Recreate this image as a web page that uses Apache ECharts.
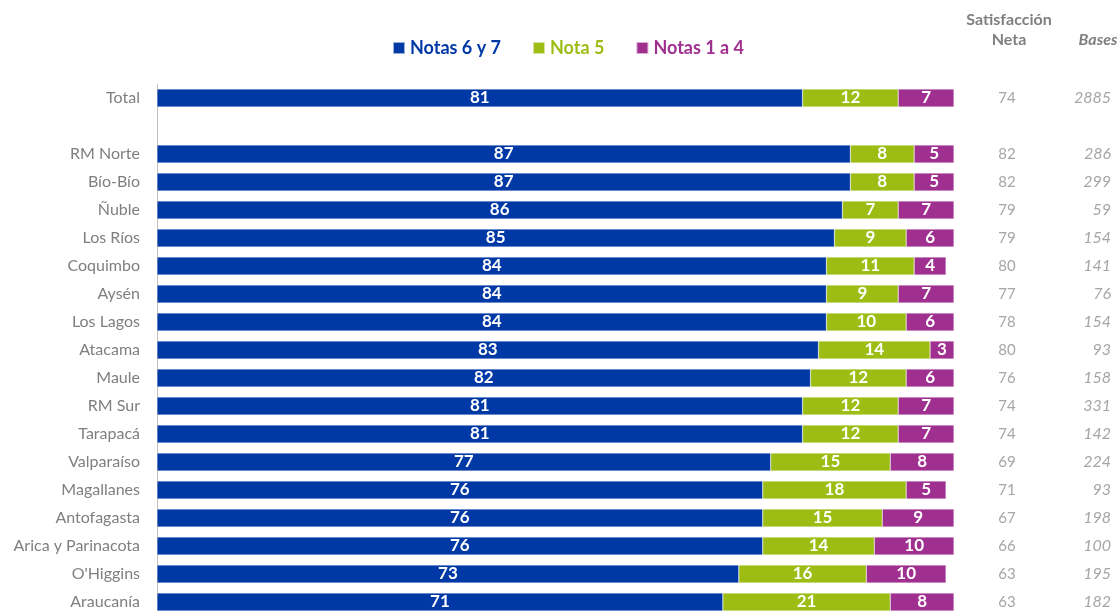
<!DOCTYPE html>
<html>
<head>
<meta charset="utf-8">
<script src="https://cdn.jsdelivr.net/npm/echarts@6/dist/echarts.min.js"></script>
<style>
  html, body { margin: 0; padding: 0; background: #fff; }
  #chart { width: 1120px; height: 611px; }
</style>
</head>
<body>
<div id="chart"></div>
<script>
// Regions (blank entry separates the national total from the regions)
var categories = ['Total', '', 'RM Norte', 'Bío-Bío', 'Ñuble', 'Los Ríos', 'Coquimbo', 'Aysén',
  'Los Lagos', 'Atacama', 'Maule', 'RM Sur', 'Tarapacá', 'Valparaíso', 'Magallanes',
  'Antofagasta', 'Arica y Parinacota', "O'Higgins", 'Araucanía'];

var notas6y7 = [81, null, 87, 87, 86, 85, 84, 84, 84, 83, 82, 81, 81, 77, 76, 76, 76, 73, 71];
var nota5    = [12, null, 8, 8, 7, 9, 11, 9, 10, 14, 12, 12, 12, 15, 18, 15, 14, 16, 21];
var notas1a4 = [7, null, 5, 5, 7, 6, 4, 7, 6, 3, 6, 7, 7, 8, 5, 9, 10, 10, 8];

var satisfaccionNeta = [74, null, 82, 82, 79, 79, 80, 77, 78, 80, 76, 74, 74, 69, 71, 67, 66, 63, 63];
var bases = [2885, null, 286, 299, 59, 154, 141, 76, 154, 93, 158, 331, 142, 224, 93, 198, 100, 195, 182];

var FONT = 'Lato, "Open Sans", sans-serif';
var COLORS = ['#0039a6', '#9dbd14', '#a0308f'];
var NAMES = ['Notas 6 y 7', 'Nota 5', 'Notas 1 a 4'];

var chart = echarts.init(document.getElementById('chart'));

function barSeries(name, data, color) {
  return {
    name: name,
    type: 'bar',
    stack: 'notas',
    barWidth: 18,
    data: data,
    itemStyle: { color: color, borderColor: 'rgba(255,255,255,0.6)', borderWidth: 0.5 },
    label: {
      show: true,
      position: 'inside',
      color: '#ffffff',
      fontFamily: FONT,
      fontWeight: 'bold',
      fontSize: 17
    },
    emphasis: { disabled: true }
  };
}

function sideAxis(values) {
  return {
    type: 'category',
    data: categories,
    inverse: true,
    position: 'right',
    axisLine: { show: false },
    axisTick: { show: false },
    splitLine: { show: false },
    axisLabel: {
      color: '#a6a6a6',
      fontFamily: FONT,
      fontSize: 15,
      padding: [5, 0, 0, 0],
      formatter: function (v, i) {
        return values[i] == null ? '' : String(values[i]);
      }
    }
  };
}

var netAxis = sideAxis(satisfaccionNeta);
netAxis.axisLabel.align = 'center';
netAxis.axisLabel.margin = 53;

var basesAxis = sideAxis(bases);
basesAxis.axisLabel.align = 'right';
basesAxis.axisLabel.margin = 157;
basesAxis.axisLabel.fontStyle = 'italic';
basesAxis.axisLabel.fontSize = 16;

var headStyle = { fill: '#7f7f7f', fontFamily: FONT, fontWeight: 'bold', fontSize: 16,
  align: 'center', verticalAlign: 'middle' };

chart.setOption({
  animation: false,
  backgroundColor: '#ffffff',
  grid: { left: 157, right: 166, top: 84, height: 532, outerBoundsMode: 'none', containLabel: false },
  legend: {
    left: 392,
    top: 39,
    padding: 0,
    itemWidth: 12,
    itemHeight: 12,
    itemGap: 31,
    icon: 'rect',
    selectedMode: false,
    textStyle: { fontFamily: FONT, fontWeight: 'bold', fontSize: 18 },
    data: NAMES.map(function (n, i) {
      return { name: n, textStyle: { color: COLORS[i] } };
    })
  },
  xAxis: {
    type: 'value',
    min: 0,
    max: 100,
    show: false
  },
  yAxis: [
    {
      type: 'category',
      data: categories,
      inverse: true,
      axisLine: { show: true, lineStyle: { color: '#bfbfbf', width: 1 } },
      axisTick: { show: false },
      axisLabel: {
        color: '#7f7f7f',
        fontFamily: FONT,
        fontSize: 16,
        margin: 17
      }
    },
    netAxis,
    basesAxis
  ],
  graphic: [
    { type: 'text', x: 1009, y: 20,
      style: Object.assign({ text: 'Satisfacción' }, headStyle) },
    { type: 'text', x: 1009, y: 40,
      style: Object.assign({ text: 'Neta' }, headStyle) },
    { type: 'text', x: 1098, y: 40,
      style: Object.assign({ text: 'Bases', fontStyle: 'italic' }, headStyle) }
  ],
  series: [
    barSeries(NAMES[0], notas6y7, COLORS[0]),
    barSeries(NAMES[1], nota5, COLORS[1]),
    barSeries(NAMES[2], notas1a4, COLORS[2])
  ]
});
</script>
</body>
</html>
